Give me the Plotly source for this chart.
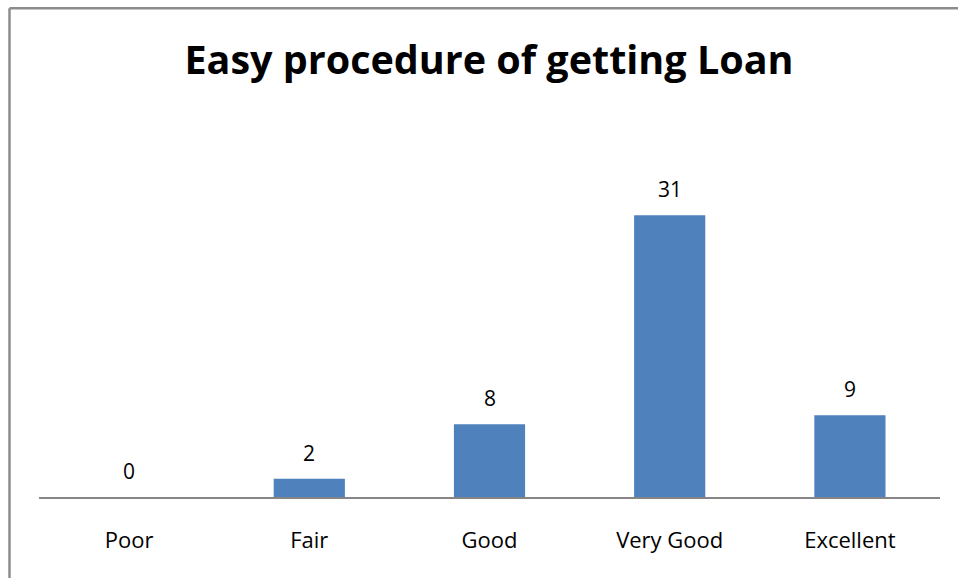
import plotly.graph_objects as go

categories = ["Poor", "Fair", "Good", "Very Good", "Excellent"]
values = [0, 2, 8, 31, 9]
title_text = "Easy procedure of getting Loan"

W, H = 958, 578
ML, MR, MT, MB = 39, 18, 179, 81
PW = W - ML - MR
PH = H - MT - MB

fig = go.Figure(go.Bar(
    x=categories, y=values,
    marker=dict(color="#4F81BD", line=dict(width=0)),
    width=0.395,
    hoverinfo="x+y",
))

for c, v in zip(categories, values):
    fig.add_annotation(x=c, y=v, text=str(v), showarrow=False,
                       yanchor="bottom", yshift=10,
                       font=dict(family="Open Sans", size=21, color="#000000"))

# chart border: only the left and top edges fall inside the picture
bx0 = (9.5 - ML) / PW
bx1 = (W - ML) / PW
by0 = -(MB) / PH
by1 = (H - MB - 8.2) / PH
border = dict(color="#8C8C8C", width=2.5)
fig.add_shape(type="line", xref="paper", yref="paper",
              x0=bx0, x1=bx0, y0=by0, y1=by1, line=border, layer="above")
fig.add_shape(type="line", xref="paper", yref="paper",
              x0=bx0, x1=bx1, y0=by1, y1=by1, line=border, layer="above")

fig.update_layout(
    width=W, height=H,
    margin=dict(l=ML, r=MR, t=MT, b=MB, pad=0),
    paper_bgcolor="white", plot_bgcolor="white",
    title=dict(text="<b>" + title_text + "</b>", x=489 / W, xanchor="center",
               y=(H - 60) / H, yanchor="middle",
               font=dict(family="Open Sans", size=39.5, color="#000000")),
    xaxis=dict(showline=True, linecolor="#868686", linewidth=2,
               ticks="", showgrid=False, zeroline=False,
               tickfont=dict(family="Open Sans", size=22, color="#000000"),
               ticklabelstandoff=23),
    yaxis=dict(range=[0, 35], visible=False, showgrid=False, zeroline=False),
    showlegend=False,
    font=dict(family="Open Sans"),
)

fig.write_html("out.html", config={"displayModeBar": False},
               post_script="document.body.style.margin='0';"
                           "document.documentElement.style.overflow='hidden';"
                           "document.body.style.overflow='hidden';")
